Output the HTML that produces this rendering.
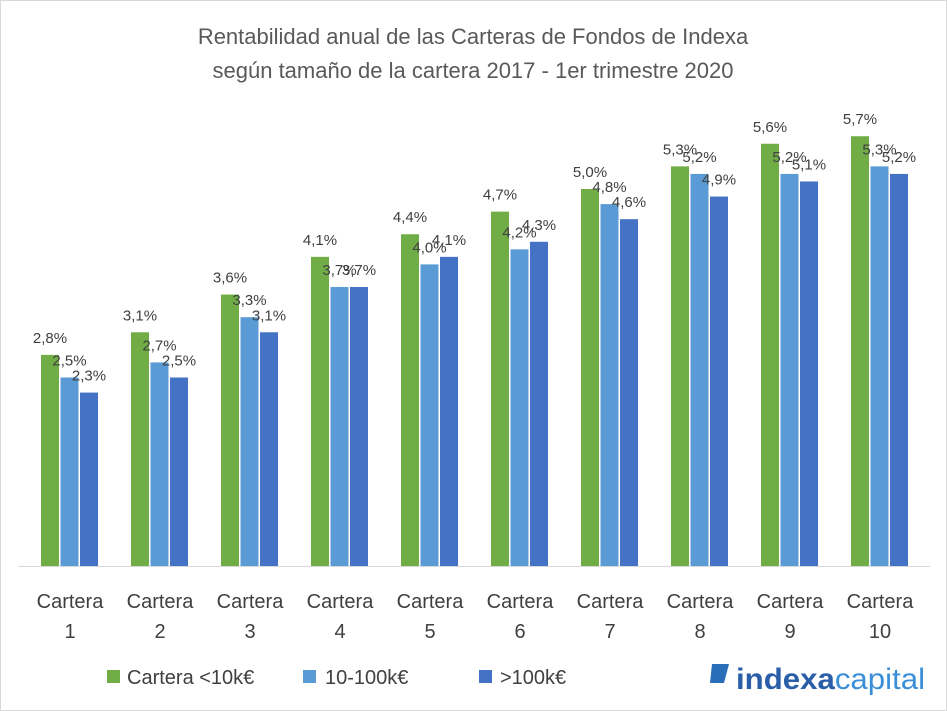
<!DOCTYPE html>
<html><head><meta charset="utf-8"><style>body{margin:0;background:#fff}svg{display:block}</style></head><body>
<svg width="947" height="711" xmlns="http://www.w3.org/2000/svg" font-family="Liberation Sans, sans-serif">
<rect x="0.5" y="0.5" width="946" height="710" fill="#fff" stroke="#d9d9d9"/>
<text x="473" y="44" font-size="22" fill="#595959" text-anchor="middle">Rentabilidad anual de las Carteras de Fondos de Indexa</text>
<text x="473" y="78" font-size="22" fill="#595959" text-anchor="middle">según tamaño de la cartera 2017 - 1er trimestre 2020</text>
<line x1="18" y1="566.5" x2="930" y2="566.5" stroke="#d9d9d9"/>
<g id="bars" font-size="15" fill="#404040" text-anchor="middle"></g>
<g font-size="20" fill="#404040" text-anchor="middle" id="cats"></g>
<rect x="107" y="670" width="13" height="13" fill="#70AD47"/>
<text x="127" y="684" font-size="20" fill="#404040">Cartera &lt;10k€</text>
<rect x="303" y="670" width="13" height="13" fill="#5B9BD5"/>
<text x="325" y="684" font-size="20" fill="#404040">10-100k€</text>
<rect x="479" y="670" width="13" height="13" fill="#4472C4"/>
<text x="500" y="684" font-size="20" fill="#404040">&gt;100k€</text>
<path d="M712 664 h17 l-5 19 h-14 z" fill="#2a6db8"/>
<text x="736" y="689" font-size="30" font-weight="bold" fill="#2a5ea8" textLength="189" lengthAdjust="spacingAndGlyphs">indexa<tspan font-weight="normal" fill="#3a8fd8">capital</tspan></text>
</svg>
<script>
var v=[[2.8,2.5,2.3],[3.1,2.7,2.5],[3.6,3.3,3.1],[4.1,3.7,3.7],[4.4,4.0,4.1],[4.7,4.2,4.3],[5.0,4.8,4.6],[5.3,5.2,4.9],[5.6,5.2,5.1],[5.7,5.3,5.2]];
var c=["#70AD47","#5B9BD5","#4472C4"],b="",t="";
for(var i=0;i<10;i++){var cx=70+90*i;for(var j=0;j<3;j++){var x=cx-29+j*19.5,h=v[i][j]*75.4,y=566-h;
b+='<rect x="'+x+'" y="'+y+'" width="18" height="'+h+'" fill="'+c[j]+'"/>';
b+='<text x="'+(x+9)+'" y="'+(y-12)+'">'+v[i][j].toFixed(1).replace(".",",")+'%</text>';}
t+='<text x="'+cx+'" y="608">Cartera</text><text x="'+cx+'" y="638">'+(i+1)+'</text>';}
document.getElementById("bars").innerHTML=b;document.getElementById("cats").innerHTML=t;
</script>
</body></html>
